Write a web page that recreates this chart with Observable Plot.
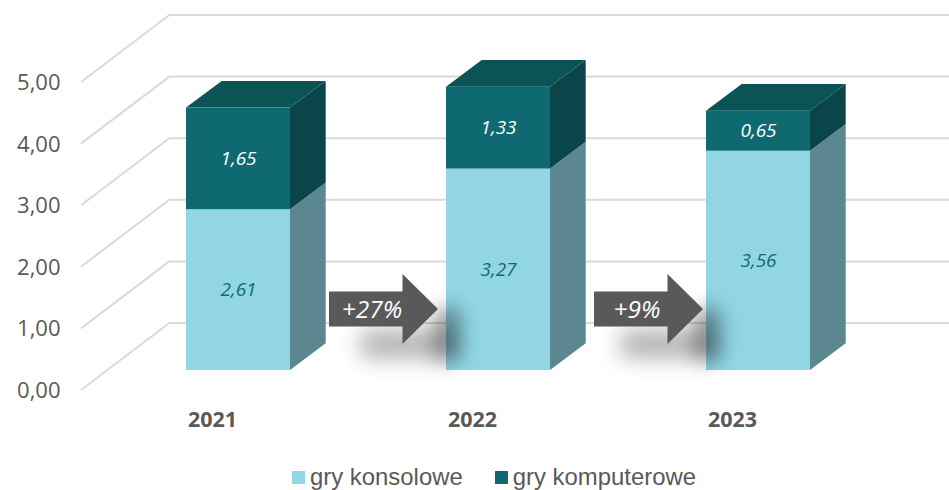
<!DOCTYPE html>
<html lang="pl"><head><meta charset="utf-8">
<script src="https://cdn.jsdelivr.net/npm/d3@7"></script>
<script src="https://cdn.jsdelivr.net/npm/@observablehq/plot@0.6"></script>
<style>
html,body{margin:0;padding:0;background:#fff;overflow:hidden}
#legend{display:flex;align-items:center;padding-left:292px;font:23.9px "Liberation Sans",Arial,sans-serif;color:#595959;height:44px}
#legend i{display:inline-block;width:13px;height:13px;margin-right:5px}
#legend span{margin-right:32px;display:flex;align-items:center}
</style></head><body>
<div id="chart"></div>
<div id="legend"></div>
<script>
const years = ["2021", "2022", "2023"];
const consoleGames = [2.61, 3.27, 3.56];
const computerGames = [1.65, 1.33, 0.65];
const seriesNames = ["gry konsolowe", "gry komputerowe"];
const yTicks = [0, 1, 2, 3, 4, 5];
const growthLabels = ["+27%", "+9%"];

const colors = {
  "gry konsolowe": {front: "#92d6e6", side: "#5d8790", top: "#7fbccb", text: "#0e6b70"},
  "gry komputerowe": {front: "#0e6a70", side: "#0a4549", top: "#0b5355", text: "#ffffff"}
};
const table = [
  ...years.map((year, i) => ({year, series: seriesNames[0], value: consoleGames[i]})),
  ...years.map((year, i) => ({year, series: seriesNames[1], value: computerGames[i]}))
];
const fmt = v => v.toFixed(2).replace(".", ",");

// depth of the 3D scene, in pixels
const frontDy = 47.5, barDx = 35.7, barDy = 26.7, wallDx = 89, wallDy = 67.5;
const NS = "http://www.w3.org/2000/svg";

function poly(parent, pts, attrs) {
  const p = document.createElementNS(NS, "polygon");
  p.setAttribute("points", pts.map(q => q.join(",")).join(" "));
  for (const k in attrs) p.setAttribute(k, attrs[k]);
  parent.appendChild(p);
  return p;
}

function wallDiagonals(index, {y}, values, dims) {
  const g = document.createElementNS(NS, "g");
  for (const t of yTicks) {
    const l = document.createElementNS(NS, "line");
    l.setAttribute("x1", dims.marginLeft); l.setAttribute("y1", y(t));
    l.setAttribute("x2", dims.marginLeft - wallDx); l.setAttribute("y2", y(t) + wallDy);
    l.setAttribute("stroke", "#dadada"); l.setAttribute("stroke-width", 2);
    g.appendChild(l);
  }
  return g;
}

function barFaces(index, {x, y}) {
  const g = document.createElementNS(NS, "g");
  const w = x.bandwidth();
  years.forEach((year, i) => {
    const x0 = x(year), x1 = x0 + w;
    let base = 0;
    [consoleGames[i], computerGames[i]].forEach((v, s) => {
      const c = colors[seriesNames[s]];
      const yb = y(base) + frontDy, yt = y(base + v) + frontDy;
      poly(g, [[x1, yb], [x1 + barDx, yb - barDy], [x1 + barDx, yt - barDy], [x1, yt]], {fill: c.side});
      base += v;
      if (s === 1) poly(g, [[x0, yt], [x0 + barDx, yt - barDy], [x1 + barDx, yt - barDy], [x1, yt]], {fill: c.top});
    });
  });
  return g;
}

function arrows(index, {x, y}) {
  const g = document.createElementNS(NS, "g");
  const defs = document.createElementNS(NS, "defs");
  defs.innerHTML = '<filter id="sb" filterUnits="userSpaceOnUse" x="0" y="0" width="949" height="490"><feGaussianBlur stdDeviation="11"/></filter>'
                 + '<filter id="sb2" filterUnits="userSpaceOnUse" x="0" y="0" width="949" height="490"><feGaussianBlur stdDeviation="10"/></filter>';
  g.appendChild(defs);
  growthLabels.forEach((label, i) => {
    const cx = x(years[i + 1]);
    const base = y(0) + frontDy;
    // soft shadow beneath the arrow
    poly(g, [[cx - 85, base - 40], [cx + 5, base - 40], [cx + 5, base - 12], [cx - 85, base - 12]],
      {fill: "#000", opacity: 0.3, filter: "url(#sb)"});
    poly(g, [[cx - 10, base - 62], [cx + 14, base - 62], [cx + 14, base - 10], [cx - 10, base - 10]],
      {fill: "#000", opacity: 0.4, filter: "url(#sb2)"});
    const tip = cx - (i === 0 ? 8 : 3);
    const cy = base - 61;
    poly(g, [[tip - 109, cy - 17.5], [tip - 35.5, cy - 17.5], [tip - 35.5, cy - 35], [tip, cy],
             [tip - 35.5, cy + 35], [tip - 35.5, cy + 17.5], [tip - 109, cy + 17.5]], {fill: "#595959"});
    const t = document.createElementNS(NS, "text");
    t.textContent = label;
    t.setAttribute("x", tip - 109 + 43);
    t.setAttribute("y", cy);
    t.setAttribute("dy", "0.35em");
    t.setAttribute("text-anchor", "middle");
    t.setAttribute("fill", "#fff");
    t.setAttribute("font-style", "italic");
    t.setAttribute("font-size", 24.5);
    t.setAttribute("font-family", "'Open Sans',sans-serif");
    g.appendChild(t);
  });
  return g;
}

const chart = Plot.plot({
  width: 949,
  height: 455,
  marginLeft: 170,
  marginRight: 0,
  marginTop: 14.5,
  marginBottom: 132.5,
  style: {fontFamily: "'Open Sans',sans-serif", background: "#fff", overflow: "visible"},
  x: {type: "band", domain: years, range: [108, 888], paddingInner: 0.6, paddingOuter: 0.3, align: 0.5, axis: null},
  y: {domain: [0, 5], range: [322.5, 14.5], axis: null},
  marks: [
    Plot.ruleY(yTicks, {stroke: "#dadada", strokeWidth: 2}),
    wallDiagonals,
    barFaces,
    Plot.barY(table, {x: "year", y: "value", z: "series", order: seriesNames,
      fill: d => colors[d.series].front, dy: frontDy}),
    Plot.text(table, Plot.stackY({x: "year", y: "value", z: "series", order: seriesNames,
      text: d => fmt(d.value), fill: d => colors[d.series].text, dy: frontDy,
      fontSize: 19, fontStyle: "italic", fontFamily: "'Open Sans',sans-serif"})),
    arrows,
    Plot.axisY(yTicks, {tickFormat: fmt, tickSize: 0, tickPadding: 110, dy: 68, label: null,
      fontSize: 22, fill: "#595959"}),
    Plot.axisX({tickSize: 0, tickPadding: 89, dx: -26, label: null, fontSize: 21.5, fontWeight: 700, fill: "#595959"})
  ]
});
document.getElementById("chart").appendChild(chart);
chart.style.display = "block";

document.getElementById("legend").innerHTML = seriesNames.map(s =>
  `<span><i style="background:${colors[s].front}"></i>${s}</span>`).join("");
</script>
</body></html>
